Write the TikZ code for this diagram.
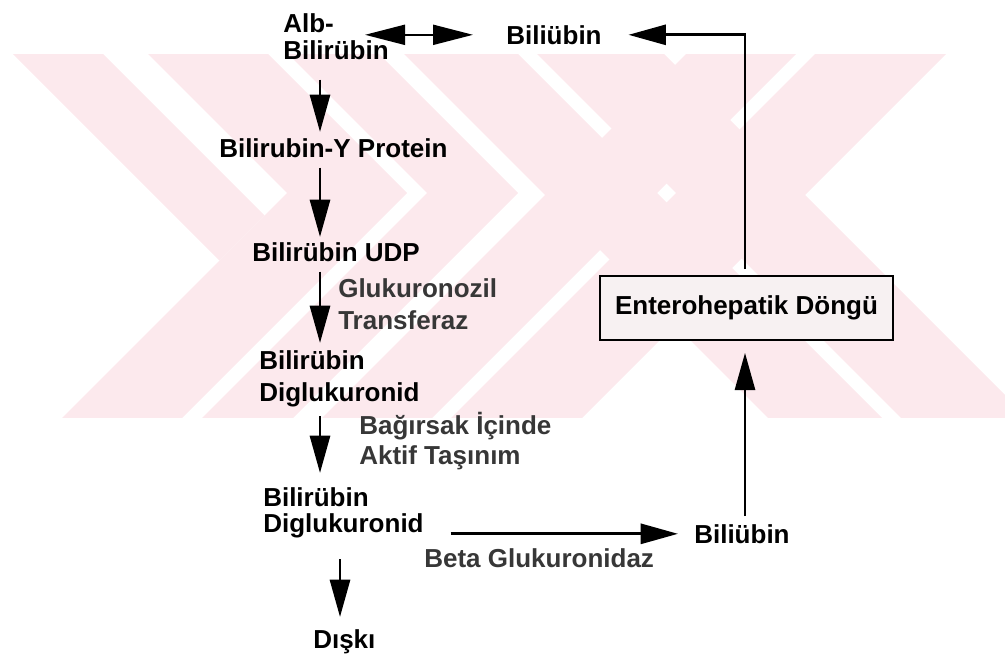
\documentclass[tikz,border=0pt]{standalone}
\usepackage{fontspec}
\setmainfont{Liberation Sans}
\usetikzlibrary{arrows.meta}

\definecolor{wmpink}{RGB}{252,233,237}
\definecolor{boxfill}{RGB}{247,241,242}
\definecolor{notegray}{RGB}{55,55,55}

\newcommand{\dfont}[1]{\bfseries\fontsize{19.5}{#1}\selectfont}

\begin{document}
\begin{tikzpicture}
 [x=0.75pt, y=-0.75pt,
  chem node/.style={anchor=north west, inner sep=0pt, align=left, font=\dfont{22}},
  enzyme node/.style={chem node, text=notegray},
  cycle node/.style={draw, line width=1.2pt, fill=boxfill, minimum width=219.75pt, minimum height=48pt, inner sep=0pt, font=\dfont{22}},
  flow/.style={line width=2.2pt, -{Triangle[length=28pt,width=15pt]}},
  both flow/.style={line width=1.5pt, {Triangle[length=30pt,width=15pt]}-{Triangle[length=30pt,width=15pt]}}]

\useasboundingbox (0,0) rectangle (1005,653);

% watermark stripes
\begin{scope}
  \clip (6,54) rectangle (1005,417);
  \fill[wmpink] (-41,0) -- (49,0) -- (264.5,215.5) -- (219.5,260.5) -- cycle;
  \fill[wmpink] (94,0) -- (214,0) -- (407,193) -- (100,500) -- (-20,500) -- (287,193) -- cycle;
  \fill[wmpink] (234,0) -- (325,0) -- (518,193) -- (211,500) -- (120,500) -- (427,193) -- cycle;
  \fill[wmpink] (350,0) -- (464,0) -- (964,500) -- (850,500) -- cycle;
  \fill[wmpink] (483,0) -- (610,0) -- (1110,500) -- (983,500) -- cycle;
  \fill[wmpink] (740,0) -- (850,0) -- (350,500) -- (240,500) -- cycle;
  \fill[wmpink] (869,0) -- (1000,0) -- (500,500) -- (369,500) -- cycle;
\end{scope}

\node[chem node, font=\dfont{20.25}] (alb) at (283,13) {Alb-\\Bilirübin};
\node[chem node] (bili1) at (506,25) {Biliübin};
\node[chem node] (byp) at (219,138) {Bilirubin-Y Protein};
\node[chem node] (udp) at (252,242) {Bilirübin UDP};
\node[chem node, font=\dfont{24}] (dig1) at (259,350) {Bilirübin\\Diglukuronid};
\node[chem node, font=\dfont{19.5}] (dig2) at (263,487) {Bilirübin\\Diglukuronid};
\node[chem node] (diski) at (313,629) {Dışkı};
\node[chem node] (bili2) at (694,524) {Biliübin};
\node[cycle node] (cycle) at (746.5,308) {Enterohepatik Döngü};

\node[enzyme node, font=\dfont{24}] (glk) at (338,278) {Glukuronozil\\Transferaz};
\node[enzyme node, font=\dfont{22.5}] (bag) at (359,412) {Bağırsak İçinde\\Aktif Taşınım};
\node[enzyme node] (beta) at (424,548) {Beta Glukuronidaz};

\coordinate (col1) at (320,0);
\coordinate (col2) at (340,0);
\coordinate (col3) at (745,0);
\coordinate (dl) at (365,0);

\path
  (dl |- bili1.west) edge [both flow, shorten >=24.75pt] (bili1.west)
  (alb.south -| col1) edge [flow, shorten <=15pt, shorten >=4.5pt] (byp.north -| col1)
  (byp.south -| col1) edge [flow, shorten <=7.5pt, shorten >=3.75pt] (udp.north -| col1)
  (udp.south -| col1) edge [flow, shorten <=7.5pt, shorten >=5.25pt] (dig1.north -| col1)
  (dig1.south -| col1) edge [flow, shorten <=7pt, shorten >=10.5pt] (dig2.north -| col1)
  (dig2.south -| col2) edge [flow, shorten <=16pt, shorten >=9pt] (diski.north -| col2)
  (dig2.east |- bili2.west) edge [flow, shorten <=20pt, shorten >=12pt] (bili2.west)
  (bili2.north -| col3) edge [flow, shorten <=6pt, shorten >=9pt] (cycle.south -| col3);

\draw[flow, line width=2pt, shorten <=4.5pt, shorten >=20pt] (cycle.north -| col3) |- (bili1.east);

\end{tikzpicture}
\end{document}
